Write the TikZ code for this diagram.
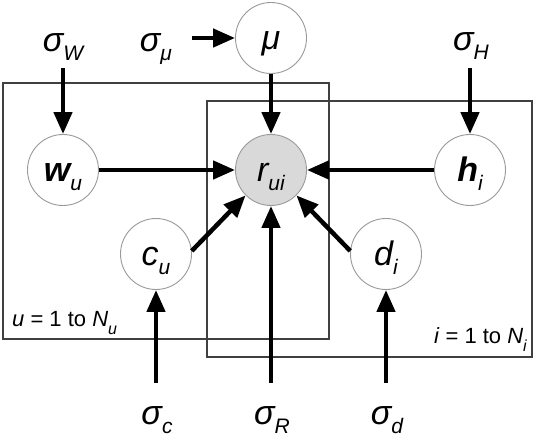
\documentclass[tikz,border=0pt]{standalone}
\usepackage{fontspec}
\setmainfont{Liberation Sans}
\usetikzlibrary{arrows.meta}
\definecolor{nodeline}{HTML}{9A9A9A}
\definecolor{obsfill}{HTML}{D9D9D9}
\definecolor{plateline}{HTML}{404040}
\newcommand{\mainv}[2]{{\fontsize{34}{34}\selectfont\itshape #1}\raisebox{-9pt}{\fontsize{21}{21}\selectfont\itshape #2}}
\newcommand{\mainb}[2]{{\fontsize{34}{34}\selectfont\bfseries\itshape #1}\raisebox{-9pt}{\fontsize{21}{21}\selectfont\itshape #2}}
\newcommand{\platelab}[2]{{\fontsize{22}{26}\selectfont\textit{#1} = 1 to \textit{N}}\raisebox{-8pt}{\fontsize{16}{16}\selectfont\itshape #2}}
\tikzset{
  var/.style={circle, draw=nodeline, line width=0.9pt, fill=white, minimum size=71pt, inner sep=0pt, text height=24pt, text depth=0pt},
  obs/.style={var, fill=obsfill},
  arr/.style={line width=4.5pt, -{Triangle[length=22pt,width=18pt]}},
  plate/.style={draw=plateline, line width=1.2pt},
  hyper/.style={anchor=base, inner sep=0pt},
  platetext/.style={inner sep=0pt}
}
\begin{document}
\begin{tikzpicture}[x=1pt,y=-1pt]
\useasboundingbox (0,0) rectangle (536,438);
% plates
\draw[plate] (3,83) rectangle (329,339);
\draw[plate] (207,101) rectangle (532,357);
\node[platetext, anchor=base west] (ulab) at (12,327) {\platelab{u}{u}};
\node[platetext, anchor=base east] (ilab) at (527,344) {\platelab{i}{i}};
% variables
\node[var] (mu) at (271,38) {\mainv{μ}{}};
\node[obs] (r) at (271,170) {\mainv{r}{ui}};
\node[var] (w) at (63,170) {\mainb{w}{u}};
\node[var] (h) at (470,170) {\mainb{h}{i}};
\node[var] (c) at (156,254) {\mainv{c}{u}};
\node[var] (d) at (386,254) {\mainv{d}{i}};
% hyperparameters
\node[hyper] (sW) at (63,52) {\mainv{σ}{W}};
\node[hyper] (smu) at (156,52) {\mainv{σ}{μ}};
\node[hyper] (sH) at (471,51) {\mainv{σ}{H}};
\node[hyper] (sc) at (157,425) {\mainv{σ}{c}};
\node[hyper] (sR) at (272,425) {\mainv{σ}{R}};
\node[hyper] (sd) at (387,425) {\mainv{σ}{d}};
% arrow start points
\coordinate (sWa) at (63,68);
\coordinate (smua) at (192,38);
\coordinate (sHa) at (470,68);
\coordinate (sca) at (156,383);
\coordinate (sRa) at (271,383);
\coordinate (sda) at (386,383);
% arrows
\draw[arr] (sWa) -- (w);
\draw[arr] (smua) -- (mu);
\draw[arr] (sHa) -- (h);
\draw[arr] (sca) -- (c);
\draw[arr] (sRa) -- (r);
\draw[arr] (sda) -- (d);
\draw[arr] (mu) -- (r);
\draw[arr] (w) -- (r);
\draw[arr] (h) -- (r);
\draw[arr] (c.5) -- (r.225);
\draw[arr] (d.175) -- (r.315);
\end{tikzpicture}
\end{document}
